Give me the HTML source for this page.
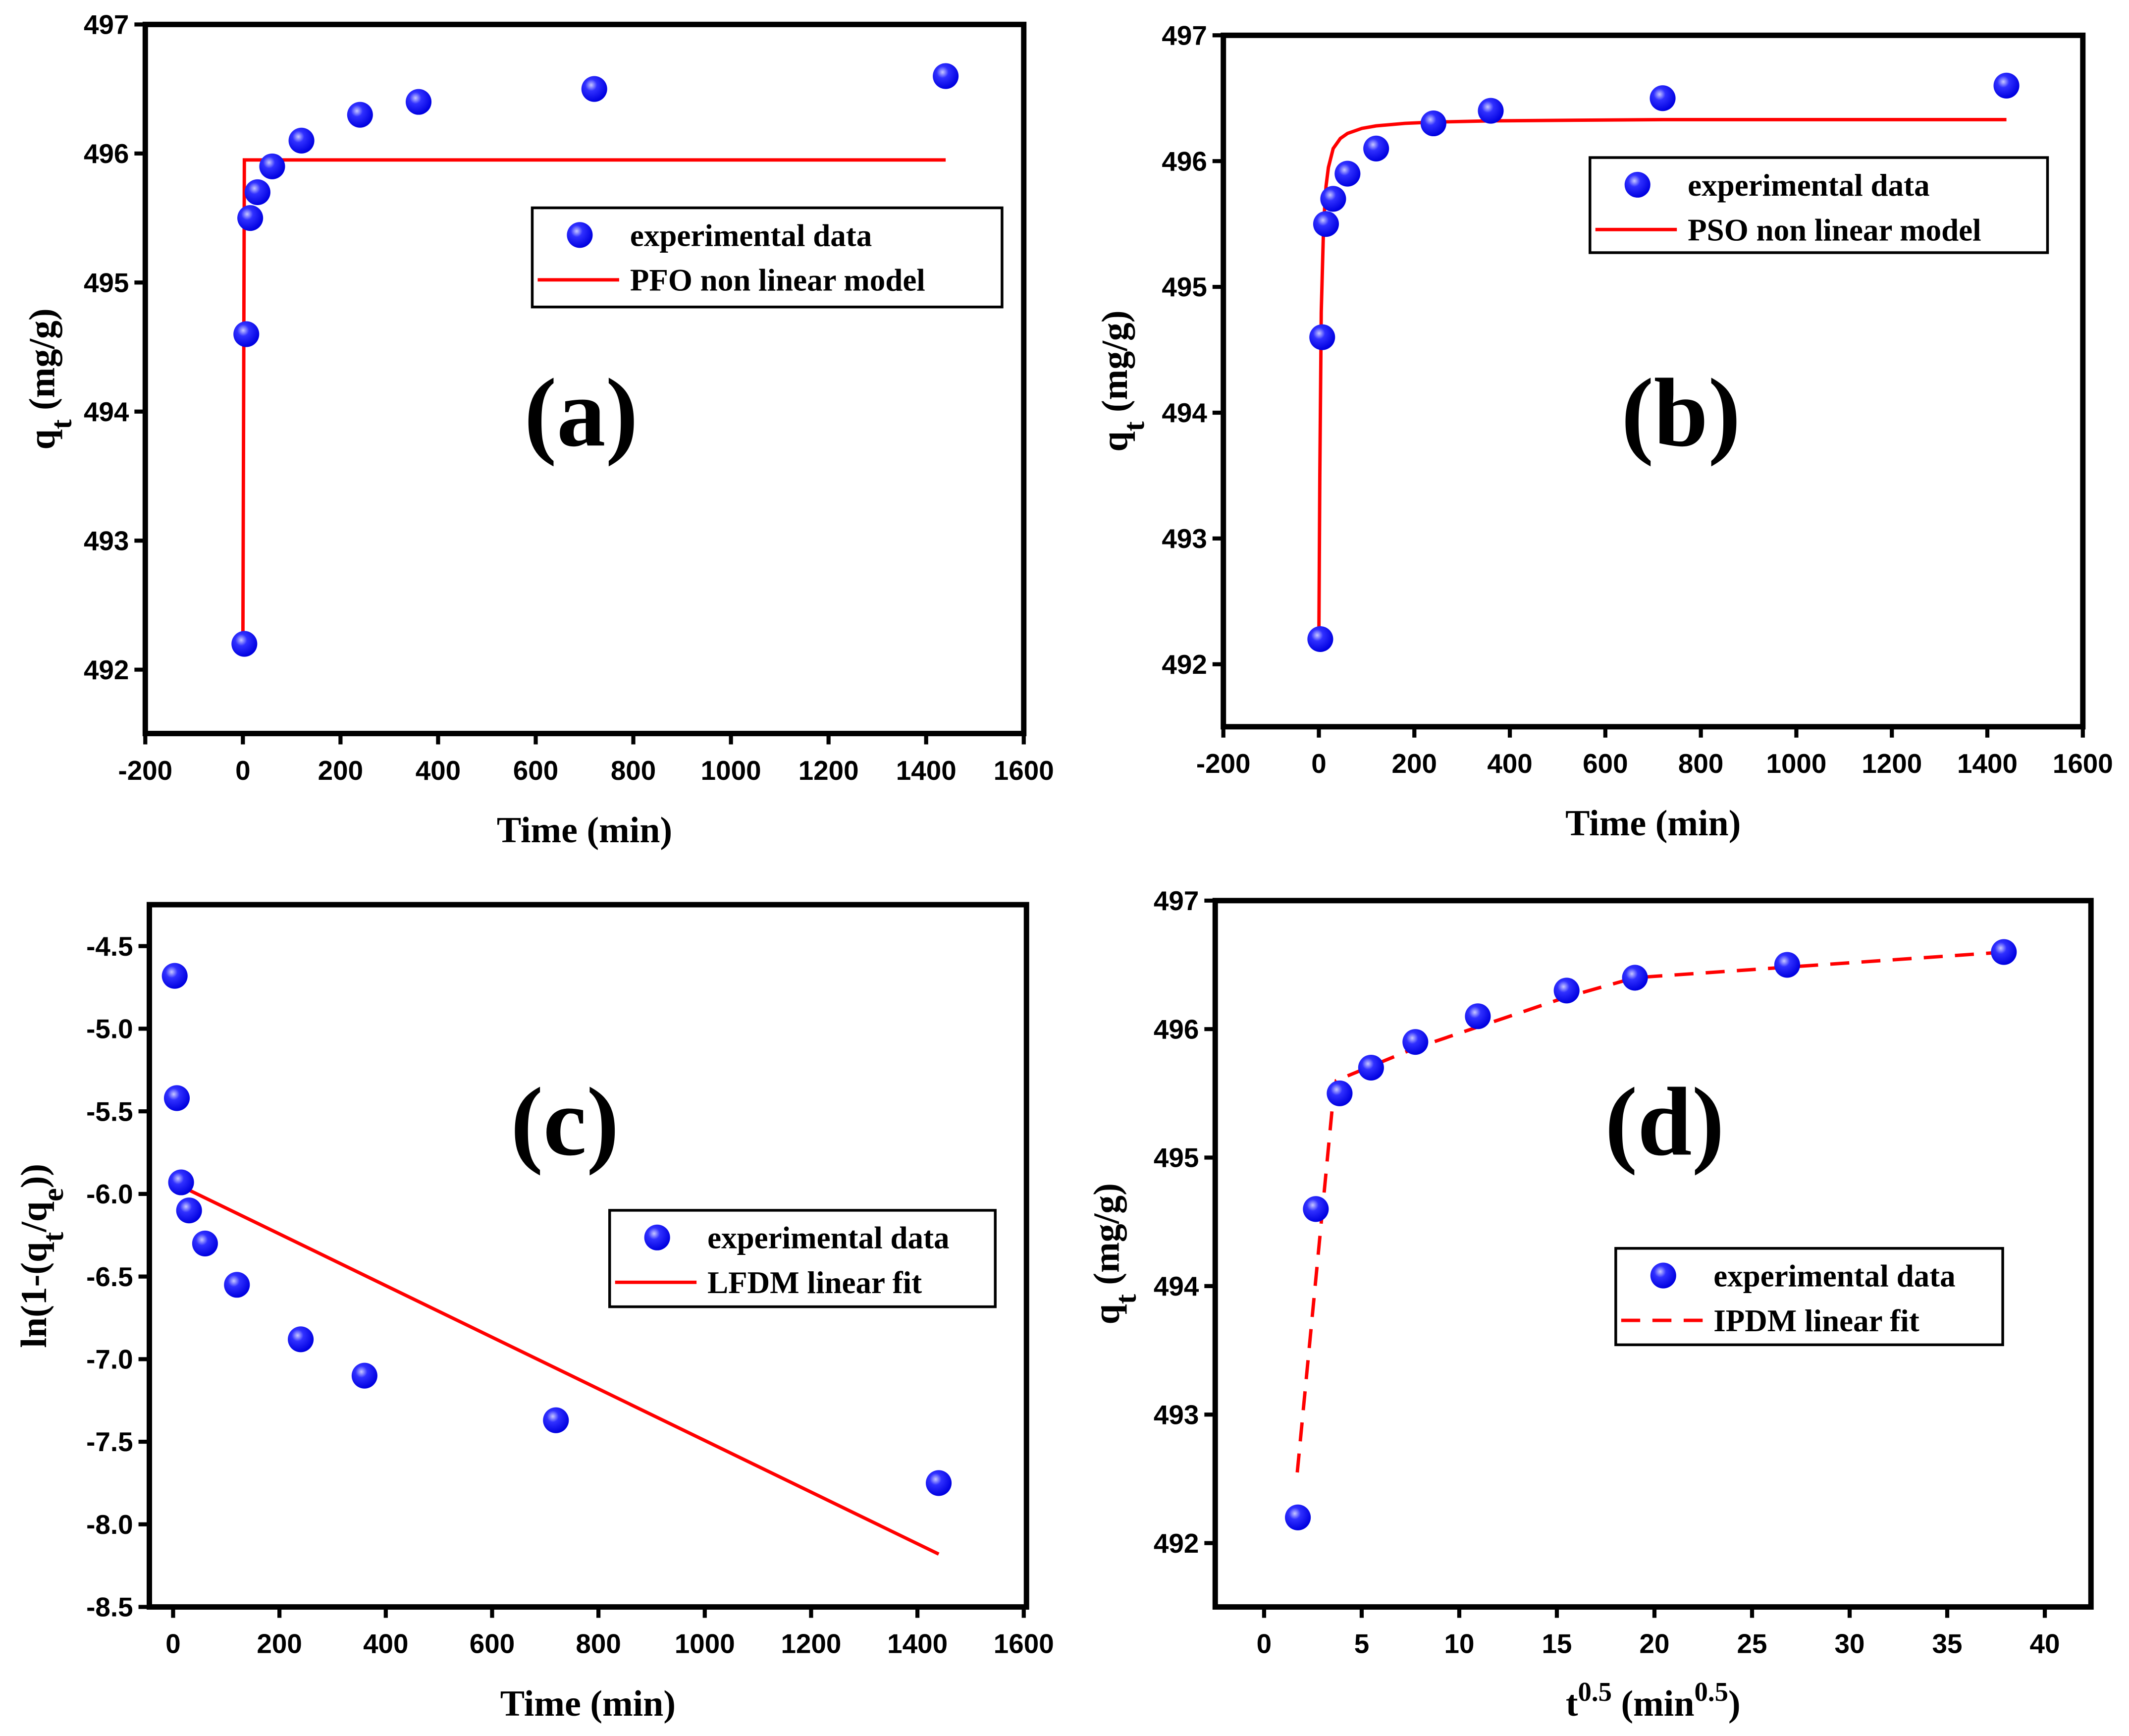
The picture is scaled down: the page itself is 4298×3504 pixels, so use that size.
<!DOCTYPE html>
<html><head><meta charset="utf-8">
<style>
html,body{margin:0;padding:0;background:#fff;}
svg{display:block;}
text{font-family:"Liberation Sans",Arial,sans-serif;}
.tick{font-size:20px;font-weight:bold;fill:#000;}
.title{font-family:"Liberation Serif",serif;font-weight:bold;font-size:27px;fill:#000;}
.leg{font-family:"Liberation Serif",serif;font-weight:bold;font-size:23px;fill:#000;}
.big{font-family:"Liberation Serif",serif;font-weight:bold;font-size:72px;fill:#000;}
</style></head>
<body>
<svg id="fig" width="4298" height="3504" viewBox="0 0 1568 1278" preserveAspectRatio="none" xmlns="http://www.w3.org/2000/svg">
<defs>
<radialGradient id="ball" cx="0.38" cy="0.35" r="0.65">
<stop offset="0" stop-color="#c8c8ff"/><stop offset="0.35" stop-color="#3030ff"/><stop offset="1" stop-color="#0000e0"/>
</radialGradient>
</defs>
</svg>
<script>
// ---- data ----
const timeMin = [3, 7, 15, 30, 60, 120, 240, 360, 720, 1440];
const qtExp = [492.2, 494.6, 495.5, 495.7, 495.9, 496.1, 496.3, 496.4, 496.5, 496.6];
const pfoT = [0, 3, 1440];
const pfoQ = [492.2, 495.95, 495.95];
const psoT = [0, 2, 5, 10, 15, 20, 30, 45, 60, 90, 120, 180, 240, 360, 720, 1440];
const psoQ = [492.2, 493.5, 494.8, 495.5, 495.8, 495.95, 496.1, 496.18, 496.22, 496.26, 496.28, 496.3, 496.31, 496.32, 496.33, 496.33];
const lnExp = [-4.68, -5.42, -5.93, -6.1, -6.3, -6.55, -6.88, -7.1, -7.37, -7.75];
const lfdmT = [0, 1440];
const lfdmY = [-5.93, -8.18];
const sqrtT = [1.73, 2.65, 3.87, 5.48, 7.75, 10.95, 15.5, 19.0, 26.8, 37.9];
const ipdmX = [1.7, 3.5, 3.7, 7.7, 15.5, 19.0, 38.0];
const ipdmY = [492.55, 495.4, 495.6, 495.85, 496.25, 496.4, 496.6];
const tickTime = [-200, 0, 200, 400, 600, 800, 1000, 1200, 1400, 1600];
const tickTimeC = [0, 200, 400, 600, 800, 1000, 1200, 1400, 1600];
const tickQ = [492, 493, 494, 495, 496, 497];
const tickLn = [-4.5, -5.0, -5.5, -6.0, -6.5, -7.0, -7.5, -8.0, -8.5];
const tickSqrt = [0, 5, 10, 15, 20, 25, 30, 35, 40];

const NS = "http://www.w3.org/2000/svg";
const svg = document.getElementById('fig');
function mk(tag, attrs, parent){const e=document.createElementNS(NS,tag);for(const k in attrs)e.setAttribute(k,attrs[k]);(parent||svg).appendChild(e);return e;}
function lin(d0,d1,r0,r1){return v=>r0+(v-d0)*(r1-r0)/(d1-d0);}

function panel(cfg){
  const g=mk('g',{});
  
  
  const X=lin(cfg.xd[0],cfg.xd[1],cfg.xr[0],cfg.xr[1]);
  const Y=lin(cfg.yd[0],cfg.yd[1],cfg.yr[0],cfg.yr[1]);
  const b=cfg.box;
  cfg.xt.forEach(v=>{
    const t=mk('line',{x1:X(v),x2:X(v),y1:b[3],y2:b[3]+8,stroke:'#000','stroke-width':3},g);
    
    
    const l=mk('text',{x:X(v),y:b[3]+34,'text-anchor':'middle',class:'tick'},g);
    
    
    l.textContent=cfg.xfmt?cfg.xfmt(v):v;
  });
  cfg.yt.forEach(v=>{
    const t=mk('line',{x1:b[0]-8,x2:b[0],y1:Y(v),y2:Y(v),stroke:'#000','stroke-width':3},g);
    
    
    const l=mk('text',{x:b[0]-12,y:Y(v)+7,'text-anchor':'end',class:'tick'},g);
    
    
    l.textContent=cfg.yfmt?cfg.yfmt(v):v;
  });
  const fr=mk('rect',{x:b[0],y:b[1],width:b[2]-b[0],height:b[3]-b[1],fill:'none',stroke:'#000','stroke-width':4},g);
  
  
  const pts=cfg.fx.map((v,i)=>X(v)+','+Y(cfg.fy[i])).join(' ');
  const pl=mk('polyline',{points:pts,fill:'none',stroke:'#f00','stroke-width':2.5},g);
  if(cfg.dash) pl.setAttribute('stroke-dasharray','14,9');
  
  
  cfg.px.forEach((v,i)=>{
    const c=mk('circle',{cx:X(v),cy:Y(cfg.py[i]),r:9.5,fill:'url(#ball)'},g);
    
    
  });
  const L=cfg.leg;
  const lg=mk('g',{},g);
  
  
  mk('rect',{x:L[0],y:L[1],width:L[2],height:L[3],fill:'#fff',stroke:'#000','stroke-width':2},lg);
  mk('circle',{cx:L[0]+35,cy:L[1]+20,r:9.5,fill:'url(#ball)'},lg);
  const t1=mk('text',{x:L[0]+72,y:L[1]+28,class:'leg'},lg);t1.textContent='experimental data';
  
  
  const ll=mk('line',{x1:L[0]+4,x2:L[0]+64,y1:L[1]+53,y2:L[1]+53,stroke:'#f00','stroke-width':2.5},lg);
  if(cfg.dash) ll.setAttribute('stroke-dasharray','14,9');
  const t2=mk('text',{x:L[0]+72,y:L[1]+61,class:'leg'},lg);t2.textContent=cfg.legText;
  
  
  const bl=mk('text',{x:cfg.lab[0],y:cfg.lab[1],'text-anchor':'middle',class:'big'},g);
  bl.textContent=cfg.label;
  
  
  const xt=mk('text',{x:(b[0]+b[2])/2,y:b[3]+80,'text-anchor':'middle',class:'title'},g);
  xt.innerHTML=cfg.xtitle;
  
  
  const cy=(b[1]+b[3])/2+cfg.ytOff;
  const yt=mk('text',{x:cfg.ytx,y:cy,'text-anchor':'middle',class:'title',transform:`rotate(-90 ${cfg.ytx} ${cy})`},g);
  if(cfg.ysize) yt.setAttribute('font-size',cfg.ysize);
  yt.innerHTML=cfg.ytitle;
  
  
}
const qTitle='q<tspan baseline-shift="sub" font-size="22">t</tspan> (mg/g)';
panel({name:'panel-a',box:[107,18,754,540],xd:[-200,1600],xr:[107,754],yd:[492,497],yr:[493,18],
  xt:tickTime,yt:tickQ,px:timeMin,py:qtExp,fx:pfoT,fy:pfoQ,leg:[392,153,346,73],legText:'PFO non linear model',
  lab:[428,328],label:'(a)',xtitle:'Time (min)',ytitle:qTitle,ytx:40,ytOff:0});
panel({name:'panel-b',box:[901,26,1534,535],xd:[-200,1600],xr:[901,1534],yd:[492,497],yr:[489,26],
  xt:tickTime,yt:tickQ,px:timeMin,py:qtExp,fx:psoT,fy:psoQ,leg:[1171,116,337,70],legText:'PSO non linear model',
  lab:[1238,328],label:'(b)',xtitle:'Time (min)',ytitle:qTitle,ytx:830,ytOff:0});
panel({name:'panel-c',box:[110,666,756,1183],xd:[0,1600],xr:[127.5,754],yd:[-4.5,-8.5],yr:[696.5,1183],
  xt:tickTimeC,yt:tickLn,yfmt:v=>v.toFixed(1),px:timeMin,py:lnExp,fx:lfdmT,fy:lfdmY,leg:[449,891,284,71],legText:'LFDM linear fit',
  lab:[416,850],label:'(c)',xtitle:'Time (min)',ytitle:'ln(1-(q<tspan baseline-shift="sub" font-size="22">t</tspan>/q<tspan baseline-shift="sub" font-size="22">e</tspan>))',ytx:34,ytOff:0,ysize:30});
panel({name:'panel-d',box:[895,663,1540,1183],xd:[0,40],xr:[931,1506],yd:[492,497],yr:[1136,663],
  xt:tickSqrt,yt:tickQ,px:sqrtT,py:qtExp,fx:ipdmX,fy:ipdmY,dash:true,leg:[1190,919,285,71],legText:'IPDM linear fit',
  lab:[1226,850],label:'(d)',xtitle:'t<tspan baseline-shift="super" font-size="20">0.5</tspan> (min<tspan baseline-shift="super" font-size="20">0.5</tspan>)',ytitle:qTitle,ytx:824,ytOff:0});
</script>
</body></html>
